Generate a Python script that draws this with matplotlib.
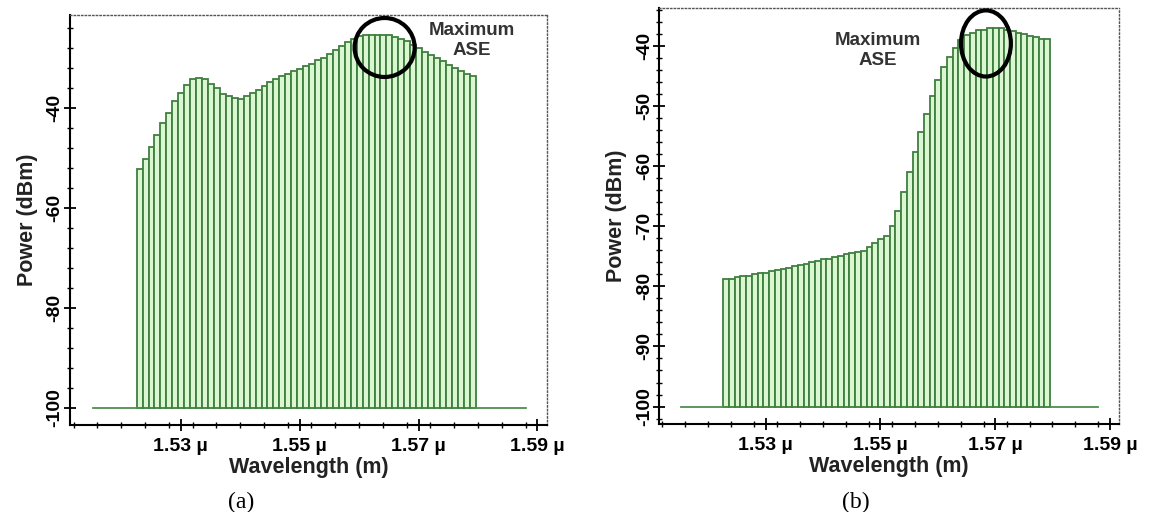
import numpy as np
import matplotlib
matplotlib.use("Agg")
import matplotlib.pyplot as plt
from matplotlib.patches import Ellipse
from matplotlib.ticker import MultipleLocator, FuncFormatter

plt.rcParams['font.family'] = ['Liberation Sans', 'DejaVu Sans']

# channel grid (um): 57 channels, 1 nm apart
first_channel = 1.5226
channel_step = 0.001

# (a) output power per channel, dBm
power_a = [-52.2, -50.2, -47.7, -45.4, -42.9, -40.9, -38.5, -36.9, -35.4, -34.1,
           -33.9, -34.2, -35.1, -35.9, -37.1, -37.5, -37.9, -38.2, -37.5, -36.9,
           -36.4, -35.6, -34.7, -34.1, -33.5, -33.2, -32.5, -32.1, -31.5, -31.1,
           -30.4, -29.9, -29.2, -28.4, -27.5, -26.7, -26.1, -25.5, -25.3, -25.3,
           -25.3, -25.3, -25.4, -25.7, -26.1, -26.6, -27.3, -28.0, -28.7, -29.4,
           -30.0, -30.6, -31.3, -32.0, -32.6, -33.1, -33.6]

# (b) output power per channel, dBm
power_b = [-78.8, -78.8, -78.5, -78.3, -78.3, -78.0, -77.8, -77.7, -77.5, -77.3,
           -77.1, -76.9, -76.7, -76.5, -76.3, -76.0, -75.8, -75.5, -75.4, -75.2,
           -74.9, -74.7, -74.5, -74.3, -74.1, -73.5, -72.8, -72.2, -71.6, -70.0,
           -67.4, -64.3, -60.9, -57.6, -54.3, -51.3, -48.4, -45.7, -43.5, -41.8,
           -40.4, -39.1, -38.2, -37.8, -37.3, -37.4, -37.1, -37.1, -37.1, -37.3,
           -37.5, -37.8, -38.1, -38.4, -38.6, -38.8, -38.9]

floor_db = -100
floor_left = [1.5152, 1.5226]
floor_right = [1.5797, 1.588]

xticks = [1.53, 1.55, 1.57, 1.59]

edge = '#3f7f3f'
face = '#daf7d2'

W, H = 1157, 512
fig = plt.figure(figsize=(W / 100, H / 100), dpi=100)
ax_a = fig.add_axes([70/W, (H-425)/H, (547-70)/W, (425-15)/H])
ax_b = fig.add_axes([659/W, (H-424)/H, (1119-659)/W, (424-8)/H])


def draw(ax, power, ylim, ymajor, yminor, circle, note_xy):
    wl = first_channel + channel_step * np.arange(len(power))
    p = np.array(power)
    ax.bar(wl, p - floor_db, bottom=floor_db, width=channel_step, align='edge',
           facecolor=face, edgecolor=edge, linewidth=1.3)
    ax.plot(floor_left, [floor_db, floor_db], color='#4f8f4f', lw=1.3)
    ax.plot(floor_right, [floor_db, floor_db], color='#4f8f4f', lw=1.3)
    ax.set_xlim(1.5114, 1.5916)
    ax.set_ylim(*ylim)
    ax.set_xticks(xticks)
    ax.xaxis.set_minor_locator(MultipleLocator(0.004))
    ax.xaxis.set_major_formatter(FuncFormatter(lambda v, pos: f"{v:.2f} \u00b5"))
    ax.yaxis.set_major_locator(MultipleLocator(ymajor))
    ax.yaxis.set_minor_locator(MultipleLocator(yminor))
    ax.yaxis.set_major_formatter(FuncFormatter(lambda v, pos: f"{v:.0f}"))
    ax.tick_params(which='major', direction='inout', length=9, width=1.3, labelsize=14)
    ax.tick_params(which='minor', direction='inout', length=5, width=1.0)
    ax.tick_params(axis='y', labelrotation=90, pad=0)
    ax.tick_params(axis='x', pad=5)
    for lab in ax.get_yticklabels():
        lab.set_va('center')
        lab.set_fontweight('bold')
    for lab in ax.get_xticklabels():
        lab.set_fontweight('bold')
    for s in ['top', 'right']:
        ax.spines[s].set_linestyle(':')
        ax.spines[s].set_color('#555555')
        ax.spines[s].set_linewidth(1.0)
    for s in ['left', 'bottom']:
        ax.spines[s].set_linewidth(1.5)
    ax.set_xlabel('Wavelength (m)', fontsize=15.5, fontweight='bold', color='#222222', labelpad=1)
    ax.set_ylabel('Power (dBm)', fontsize=15.5, fontweight='bold', color='#222222', labelpad=6)
    cx, cy, cw, ch = circle
    ax.add_patch(Ellipse((cx, cy), cw, ch, fill=False, edgecolor='black', lw=3, zorder=5))
    ax.text(note_xy[0], note_xy[1], 'Maximum\nASE', ha='center', va='center',
            fontsize=13.5, fontweight='bold', color='#333333', linespacing=1.2)


draw(ax_a, power_a, (-103.4, -21.4), 20, 4, (1.5643, -27.9, 0.0101, 11.8), (1.5789, -26.5))
draw(ax_b, power_b, (-102.9, -33.7), 10, 2, (1.5684, -39.6, 0.0087, 11.0), (1.5495, -40.8))

fig.text(241/W, 1 - 502/H, '(a)', ha='center', va='center', fontsize=17, family='Liberation Serif')
fig.text(856/W, 1 - 502/H, '(b)', ha='center', va='center', fontsize=17, family='Liberation Serif')

fig.savefig('out.png', dpi=100)
